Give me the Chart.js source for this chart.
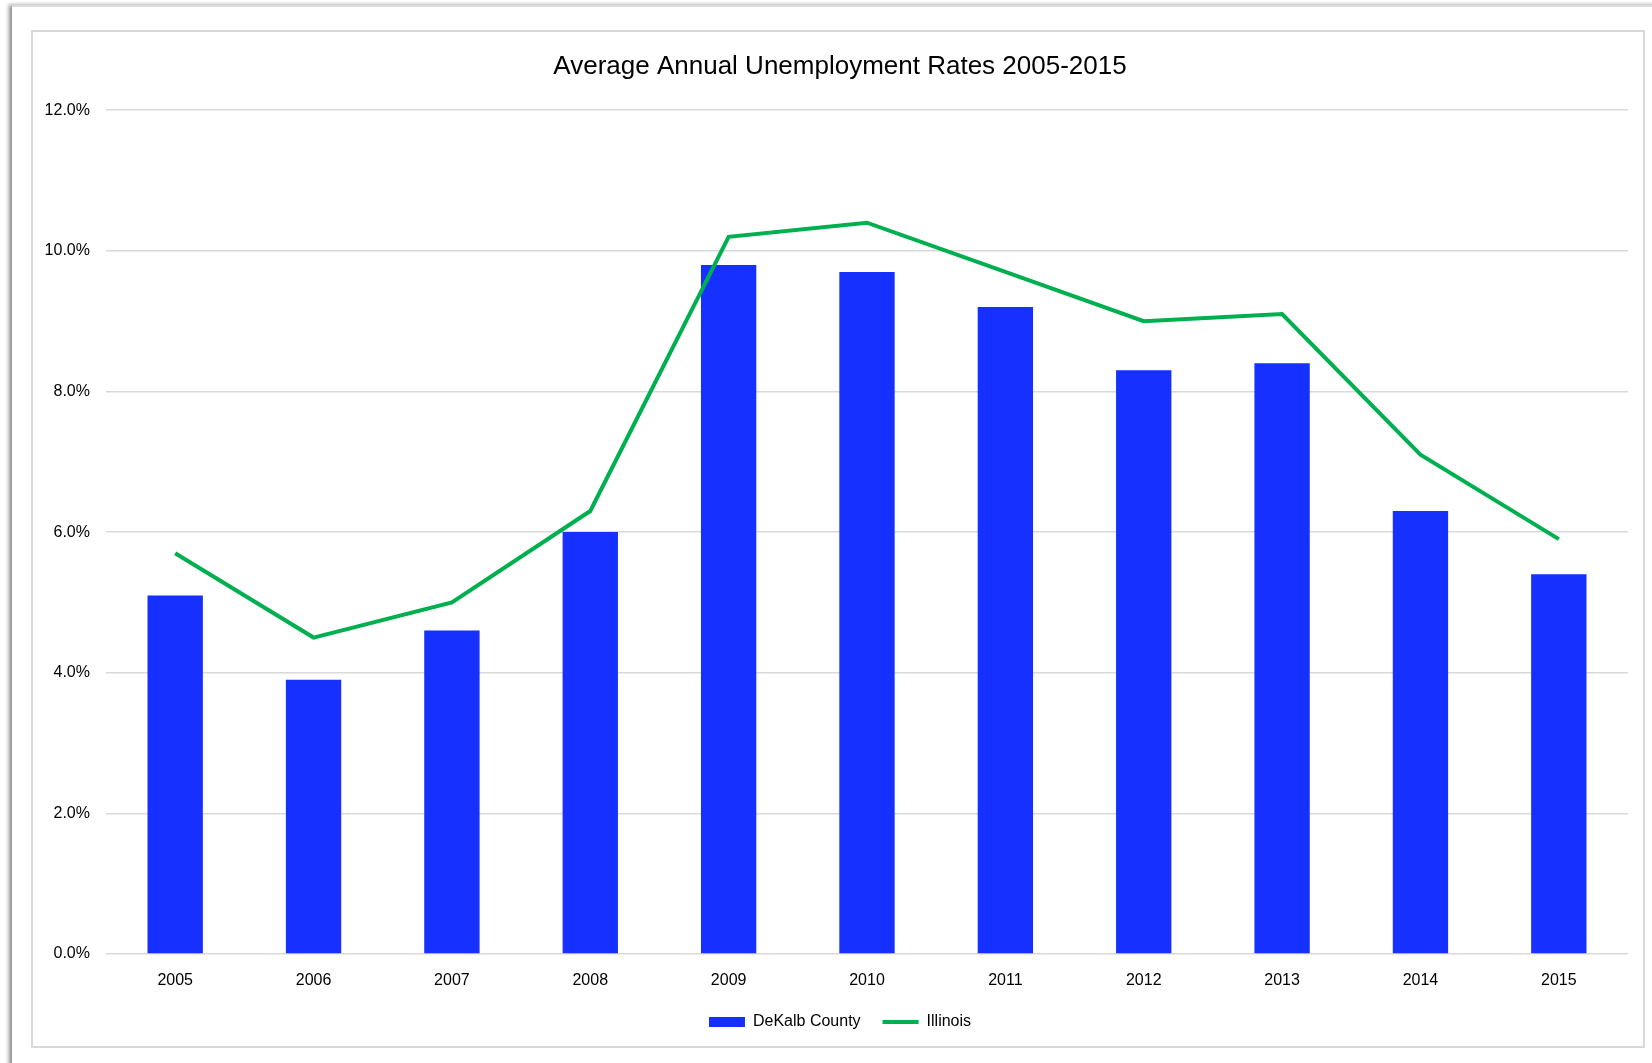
<!DOCTYPE html>
<html>
<head>
<meta charset="utf-8">
<script src="https://cdn.jsdelivr.net/npm/chart.js@4.4.1/dist/chart.umd.min.js"></script>
<style>
  html, body { margin: 0; padding: 0; background: #fff; width: 1652px; height: 1063px; overflow: hidden; }
  .card {
    position: absolute; left: 12px; top: 5px; width: 1660px; height: 1080px;
    border-top: 2px solid #dcdcdc;
    box-shadow: -3px 0 4px rgba(0,0,0,0.45);
    background: #fff;
  }
  .frame {
    position: absolute; left: 31px; top: 30px; width: 1614px; height: 1018px;
    box-sizing: border-box; border: 2px solid #d9d9d9; background: #fff;
  }
  .wrap { position: absolute; left: 2px; top: 2px; width: 1610px; height: 1014px; }
</style>
</head>
<body>
<div class="card"></div>
<div class="frame"><div class="wrap"><canvas id="unempChart"></canvas></div></div>
<script>
const ctx = document.getElementById('unempChart').getContext('2d');

// Years on the x axis
const years = ['2005', '2006', '2007', '2008', '2009', '2010', '2011', '2012', '2013', '2014', '2015'];

// Average annual unemployment rate, percent
const dekalbRates = [5.1, 3.9, 4.6, 6.0, 9.8, 9.7, 9.2, 8.3, 8.4, 6.3, 5.4];
const illinoisRates = [5.7, 4.5, 5.0, 6.3, 10.2, 10.4, 9.7, 9.0, 9.1, 7.1, 5.9];

Chart.defaults.font.family = "'Liberation Sans', Arial, sans-serif";
Chart.defaults.color = '#000';

const unempChart = new Chart(ctx, {
    type: 'bar',
    data: {
        labels: years,
        datasets: [
            {
                label: 'DeKalb County',
                data: dekalbRates,
                backgroundColor: '#1530ff',
                borderWidth: 0,
                barPercentage: 0.4,
                categoryPercentage: 1.0,
                pointStyle: 'rect',
                order: 1
            },
            {
                type: 'line',
                label: 'Illinois',
                data: illinoisRates,
                borderColor: '#00b050',
                backgroundColor: '#00b050',
                borderWidth: 4,
                pointRadius: 0,
                tension: 0,
                pointStyle: 'line',
                order: 0
            }
        ]
    },
    options: {
        responsive: true,
        maintainAspectRatio: false,
        animation: false,
        layout: { padding: { left: 17, right: 17, top: 0, bottom: 8 } },
        plugins: {
            title: {
                display: true,
                text: 'Average Annual Unemployment Rates 2005-2015',
                font: { size: 26, weight: 'normal' },
                color: '#000',
                padding: { top: 17, bottom: 28 }
            },
            legend: {
                position: 'bottom',
                labels: {
                    usePointStyle: true,
                    pointStyleWidth: 36,
                    boxHeight: 10,
                    padding: 22,
                    font: { size: 16 },
                    color: '#000',
                    sort: (a, b) => a.datasetIndex - b.datasetIndex
                }
            },
            tooltip: { enabled: false }
        },
        scales: {
            x: {
                grid: { display: false, drawTicks: false },
                border: { display: false },
                ticks: { font: { size: 16 }, padding: 17, color: '#000' },
                afterFit: function(scale) {
                    scale.height = 38;
                }
            },
            y: {
                min: 0,
                max: 12,
                grid: { color: '#d9d9d9', lineWidth: 1.5, drawTicks: false },
                border: { display: false },
                ticks: {
                    stepSize: 2,
                    // labels sit left of the axis, right-aligned 16px from the plot
                    mirror: true,
                    crossAlign: 'far',
                    padding: -61.4,
                    font: { size: 16 },
                    color: '#000',
                    callback: function(value) {
                        return value.toFixed(1) + '%';
                    }
                },
                afterFit: function(scale) {
                    scale.width = 54;
                }
            }
        }
    }
});
</script>
</body>
</html>
